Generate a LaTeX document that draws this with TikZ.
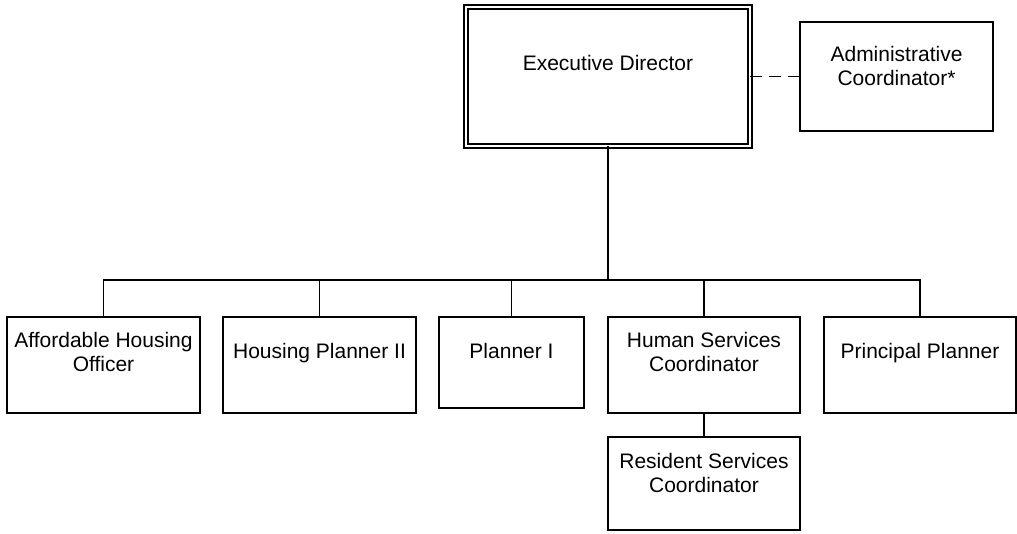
\documentclass[tikz,border=0pt]{standalone}
\usepackage{fontspec}
\setmainfont{Liberation Sans}
\begin{document}
\begin{tikzpicture}[x=1pt,y=-1pt,
  box/.style={draw=black, line width=1.8pt, rectangle, inner sep=0pt, outer sep=0pt, fill=white},
  dbox/.style={draw=black, double=white, double distance=2.5pt, line width=1.5pt, rectangle, inner sep=0pt, outer sep=0pt},
  txt/.style={align=center, inner sep=0pt, font=\fontsize{21}{24}\selectfont},
  link/.style={draw=black, line width=1.8pt},
  dlink/.style={draw=black, line width=1.8pt, dash pattern=on 12pt off 7pt}]
\useasboundingbox (0,0) rectangle (1017,533);
% boxes
\node[dbox, minimum width=284pt, minimum height=139pt] (ed) at (608,76.5) {};
\node[box, minimum width=193pt, minimum height=109pt] (ac) at (896.5,76.5) {};
\node[box, minimum width=193pt, minimum height=96pt] (aho) at (103.5,365) {};
\node[box, minimum width=193pt, minimum height=96pt] (hp) at (319.5,365) {};
\node[box, minimum width=145pt, minimum height=91pt] (p1) at (511.5,362.5) {};
\node[box, minimum width=192pt, minimum height=96pt] (hsc) at (704,365) {};
\node[box, minimum width=192pt, minimum height=96pt] (pp) at (920,365) {};
\node[box, minimum width=192pt, minimum height=93pt] (rsc) at (704,483.5) {};
% texts
\node[txt] (edt) at ([yshift=13.5pt]ed.center) {Executive Director};
\node[txt] (act) at ([yshift=11pt]ac.center) {Administrative\\Coordinator*};
\node[txt] (ahot) at ([yshift=13pt]aho.center) {Affordable Housing\\Officer};
\node[txt] (hpt) at ([yshift=12pt]hp.center) {Housing Planner II};
\node[txt] (p1t) at ([yshift=12pt]p1.center) {Planner I};
\node[txt] (hsct) at ([yshift=13pt]hsc.center) {Human Services\\Coordinator};
\node[txt] (ppt) at ([yshift=12pt]pp.center) {Principal Planner};
\node[txt] (rsct) at ([yshift=11pt]rsc.center) {Resident Services\\Coordinator};
% connectors
\coordinate (bus) at (608,280);
\draw[link] (ed.south) -- (bus);
\draw[link] (bus) -| (aho.north);
\draw[link] (bus) -| (hp.north);
\draw[link] (bus) -| (p1.north);
\draw[link] (bus) -| (hsc.north);
\draw[link] (bus) -| (pp.north);
\draw[link] (hsc.south) -- (rsc.north);
\draw[dlink] (ed.east) -- (ac.west);
\end{tikzpicture}
\end{document}
